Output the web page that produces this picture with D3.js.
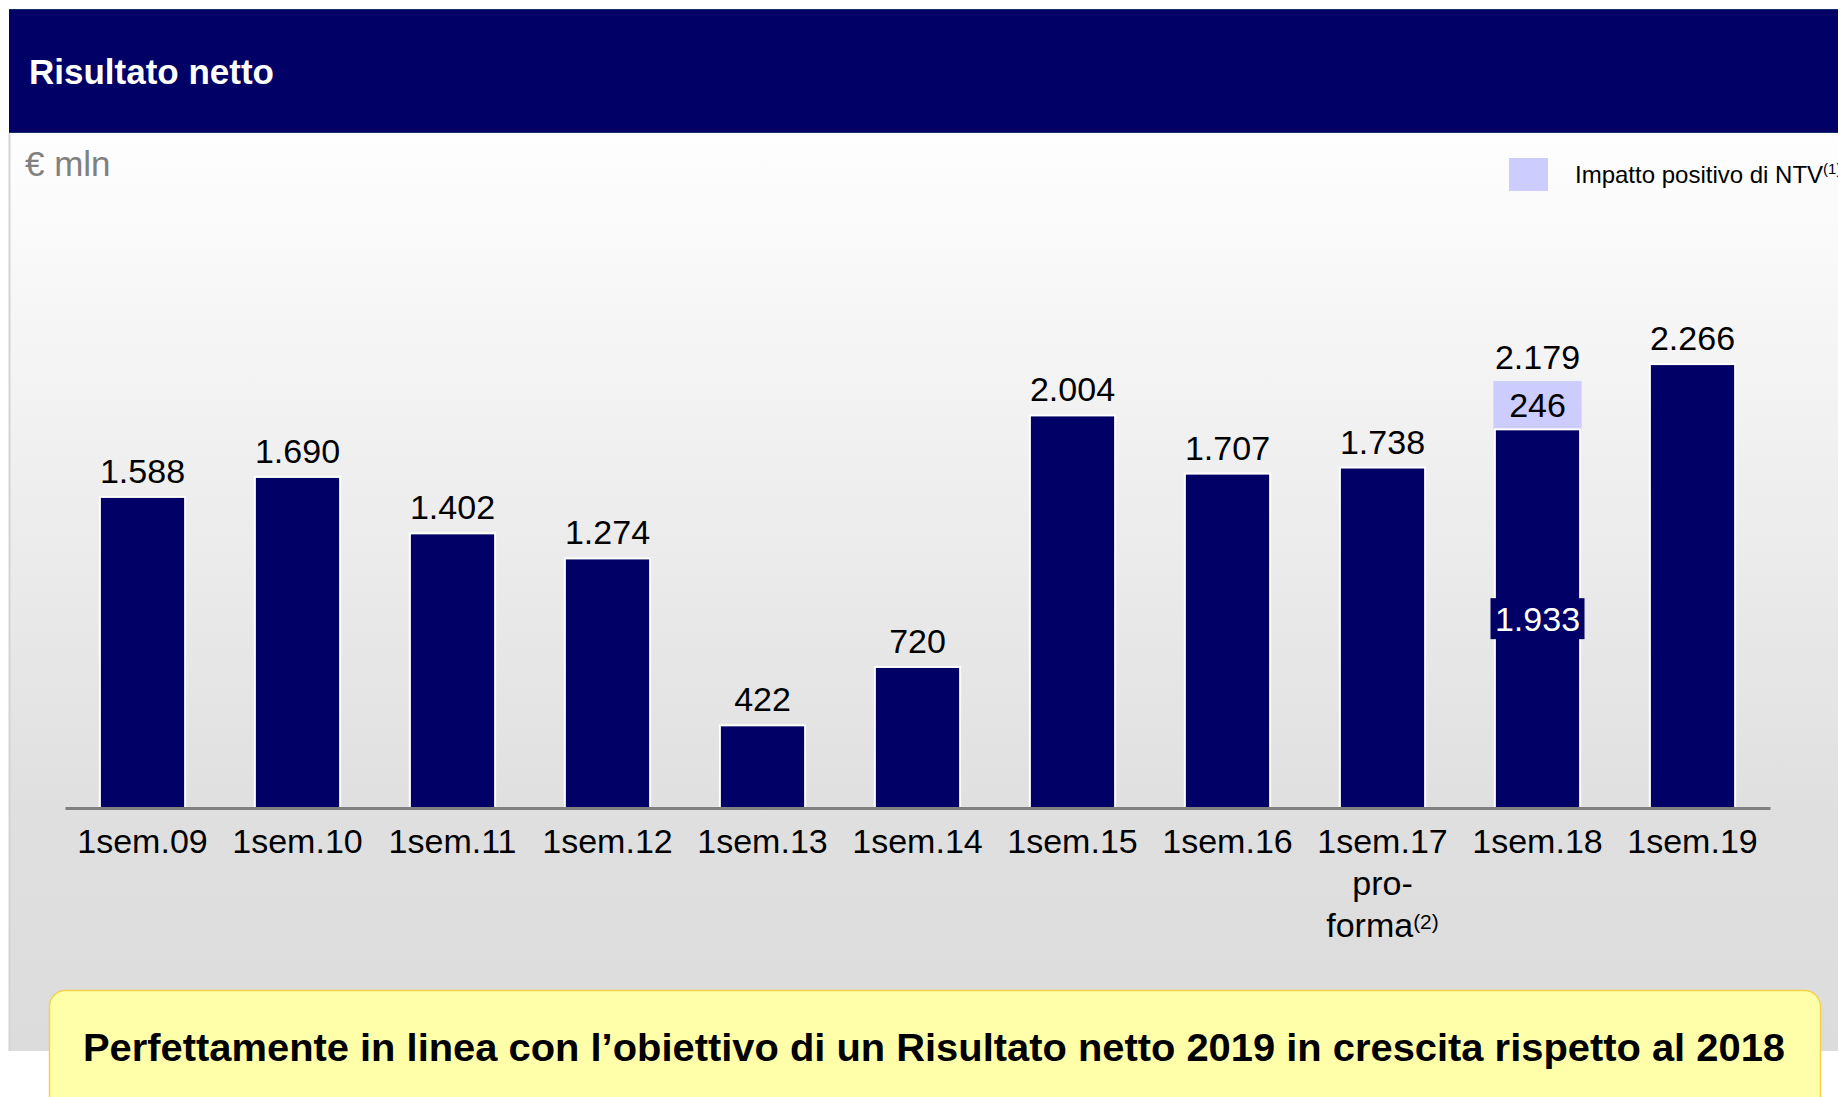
<!DOCTYPE html>
<html lang="it">
<head>
<meta charset="utf-8">
<title>Risultato netto</title>
<script src="https://cdn.jsdelivr.net/npm/d3@7"></script>
<style>
  html, body { margin: 0; padding: 0; background: #ffffff; }
  svg { display: block; font-family: "Liberation Sans", Arial, Helvetica, sans-serif; }
</style>
</head>
<body>
<svg id="chart" width="1838" height="1097"></svg>
<script>
// Half-year net result, € mln
const categories = ["1sem.09", "1sem.10", "1sem.11", "1sem.12", "1sem.13", "1sem.14",
                    "1sem.15", "1sem.16", "1sem.17", "1sem.18", "1sem.19"];
// Total net result per half-year
const totals = [1588, 1690, 1402, 1274, 422, 720, 2004, 1707, 1738, 2179, 2266];
// Positive impact of NTV included in the total
const ntvImpact = [0, 0, 0, 0, 0, 0, 0, 0, 0, 246, 0];
// Extra lines under some category labels, and their footnote marks
const categoryExtraLines = [[], [], [], [], [], [], [], [], ["pro-", "forma"], [], []];
const categoryNotes = ["", "", "", "", "", "", "", "", "(2)", "", ""];

const titleText = "Risultato netto";
const unitText = "€ mln";
const legendText = "Impatto positivo di NTV";
const legendNote = "(1)";
const bannerText = "Perfettamente in linea con l’obiettivo di un Risultato netto 2019 in crescita rispetto al 2018";

const NAVY = "#000066";
const LAVENDER = "#ccccff";
const FONT = 34;

const it = d3.formatLocale({ decimal: ",", thousands: ".", grouping: [3], currency: ["€", ""] });
const fmt = it.format(",d");

const svg = d3.select("#chart");
const W = 1838, H = 1097;

// ---- background panel with soft vertical gradient
const defs = svg.append("defs");
const grad = defs.append("linearGradient").attr("id", "panelGrad")
  .attr("x1", 0).attr("y1", 0).attr("x2", 0).attr("y2", 1);
grad.append("stop").attr("offset", "0%").attr("stop-color", "#fefefe");
grad.append("stop").attr("offset", "8%").attr("stop-color", "#fbfbfb");
grad.append("stop").attr("offset", "75%").attr("stop-color", "#dfdfdf");
grad.append("stop").attr("offset", "100%").attr("stop-color", "#dcdcdc");

svg.append("rect").attr("x", 9).attr("y", 133).attr("width", W - 9).attr("height", 918)
  .attr("fill", "url(#panelGrad)");
svg.append("line").attr("x1", 9.5).attr("x2", 9.5).attr("y1", 133).attr("y2", 1051)
  .attr("stroke", "#d4d4d4").attr("stroke-width", 2);

// ---- header band
svg.append("rect").attr("x", 9).attr("y", 9).attr("width", W - 9).attr("height", 124)
  .attr("fill", NAVY);
svg.append("line").attr("x1", 9).attr("x2", W).attr("y1", 9.5).attr("y2", 9.5)
  .attr("stroke", "#12306e").attr("stroke-width", 1);
svg.append("line").attr("x1", 9).attr("x2", W).attr("y1", 132.5).attr("y2", 132.5)
  .attr("stroke", "#12306e").attr("stroke-width", 1);
svg.append("text").attr("x", 29).attr("y", 84)
  .attr("fill", "#ffffff").attr("font-weight", "bold").attr("font-size", 35)
  .text(titleText);

// ---- unit label
svg.append("text").attr("x", 25).attr("y", 176)
  .attr("fill", "#808080").attr("font-size", 35)
  .text(unitText);

// ---- legend
svg.append("rect").attr("x", 1509).attr("y", 158).attr("width", 39).attr("height", 33)
  .attr("fill", LAVENDER);
const lg = svg.append("text").attr("x", 1575).attr("y", 183)
  .attr("fill", "#000000").attr("font-size", 24);
lg.append("tspan").text(legendText);
lg.append("tspan").attr("font-size", 15).attr("dy", -9).text(legendNote);

// ---- scales
const x = d3.scaleBand().domain(categories).range([65, 1770])
  .paddingInner(0.45).paddingOuter(0.225);
const y = d3.scaleLinear().domain([0, 2500]).range([808, 808 - 2500 * 0.1959]);

const rows = categories.map((c, i) => ({
  cat: c,
  total: totals[i],
  ntv: ntvImpact[i],
  base: totals[i] - ntvImpact[i],
  extra: categoryExtraLines[i],
  note: categoryNotes[i]
}));

const g = svg.append("g");

// NTV impact segments (stacked on top of the base)
g.selectAll("rect.ntv").data(rows.filter(d => d.ntv > 0)).join("rect")
  .attr("class", "ntv")
  .attr("x", d => x(d.cat) - 1.5)
  .attr("width", x.bandwidth() + 3)
  .attr("y", d => y(d.total))
  .attr("height", d => y(d.base) - y(d.total))
  .attr("fill", LAVENDER);

// base bars
g.selectAll("rect.bar").data(rows).join("rect")
  .attr("class", "bar")
  .attr("x", d => x(d.cat))
  .attr("width", x.bandwidth())
  .attr("y", d => y(d.base))
  .attr("height", d => y(0) - y(d.base))
  .attr("fill", NAVY)
  .attr("stroke", "#ffffff")
  .attr("stroke-width", 2);

// total labels above each bar
g.selectAll("text.total").data(rows).join("text")
  .attr("class", "total")
  .attr("x", d => x(d.cat) + x.bandwidth() / 2)
  .attr("y", d => y(d.total) - (d.ntv > 0 ? 12 : 14))
  .attr("text-anchor", "middle")
  .attr("font-size", FONT)
  .attr("fill", "#000000")
  .text(d => fmt(d.total));

// NTV impact value inside its segment
g.selectAll("text.ntvLabel").data(rows.filter(d => d.ntv > 0)).join("text")
  .attr("class", "ntvLabel")
  .attr("x", d => x(d.cat) + x.bandwidth() / 2)
  .attr("y", d => (y(d.total) + y(d.base)) / 2 + 12)
  .attr("text-anchor", "middle")
  .attr("font-size", FONT)
  .attr("fill", "#000000")
  .text(d => fmt(d.ntv));

// base value tag in the middle of the base bar (where an NTV part is stacked)
const tagged = rows.filter(d => d.ntv > 0);
g.selectAll("rect.tag").data(tagged).join("rect")
  .attr("class", "tag")
  .attr("x", d => x(d.cat) + x.bandwidth() / 2 - 47)
  .attr("width", 94)
  .attr("y", d => (y(d.base) + y(0)) / 2 - 20.5)
  .attr("height", 41)
  .attr("fill", NAVY);
g.selectAll("text.tagLabel").data(tagged).join("text")
  .attr("class", "tagLabel")
  .attr("x", d => x(d.cat) + x.bandwidth() / 2)
  .attr("y", d => (y(d.base) + y(0)) / 2 + 12)
  .attr("text-anchor", "middle")
  .attr("font-size", FONT)
  .attr("fill", "#ffffff")
  .text(d => fmt(d.base));

// ---- category axis
const axis = svg.append("g").attr("transform", `translate(0,${y(0)})`)
  .call(d3.axisBottom(x).tickSize(0).tickSizeOuter(0).tickPadding(0));
axis.select(".domain").attr("stroke", "#808080").attr("stroke-width", 3);
axis.selectAll(".tick text").remove();
axis.selectAll(".tick").each(function (c, i) {
  const r = rows[i];
  const t = d3.select(this).append("text")
    .attr("y", 45)
    .attr("text-anchor", "middle")
    .attr("font-size", FONT)
    .attr("font-family", "'Liberation Sans', Arial, sans-serif")
    .attr("fill", "#000000");
  t.append("tspan").attr("x", 0).text(c);
  r.extra.forEach((line, k) => {
    t.append("tspan").attr("x", 0).attr("dy", 42).text(line);
    if (k === r.extra.length - 1 && r.note) {
      t.append("tspan").attr("font-size", 21).attr("dy", -8).text(r.note);
    }
  });
});

// ---- bottom message box
svg.append("rect").attr("x", 49.5).attr("y", 990.5).attr("width", 1771).attr("height", 140)
  .attr("rx", 16).attr("ry", 16)
  .attr("fill", "#ffffaa").attr("stroke", "#f3d34a").attr("stroke-width", 1.5);
svg.append("text").attr("x", 934).attr("y", 1061)
  .attr("text-anchor", "middle")
  .attr("font-weight", "bold").attr("font-size", 39)
  .attr("textLength", 1702).attr("lengthAdjust", "spacingAndGlyphs")
  .attr("fill", "#000000")
  .text(bannerText);
</script>
</body>
</html>
